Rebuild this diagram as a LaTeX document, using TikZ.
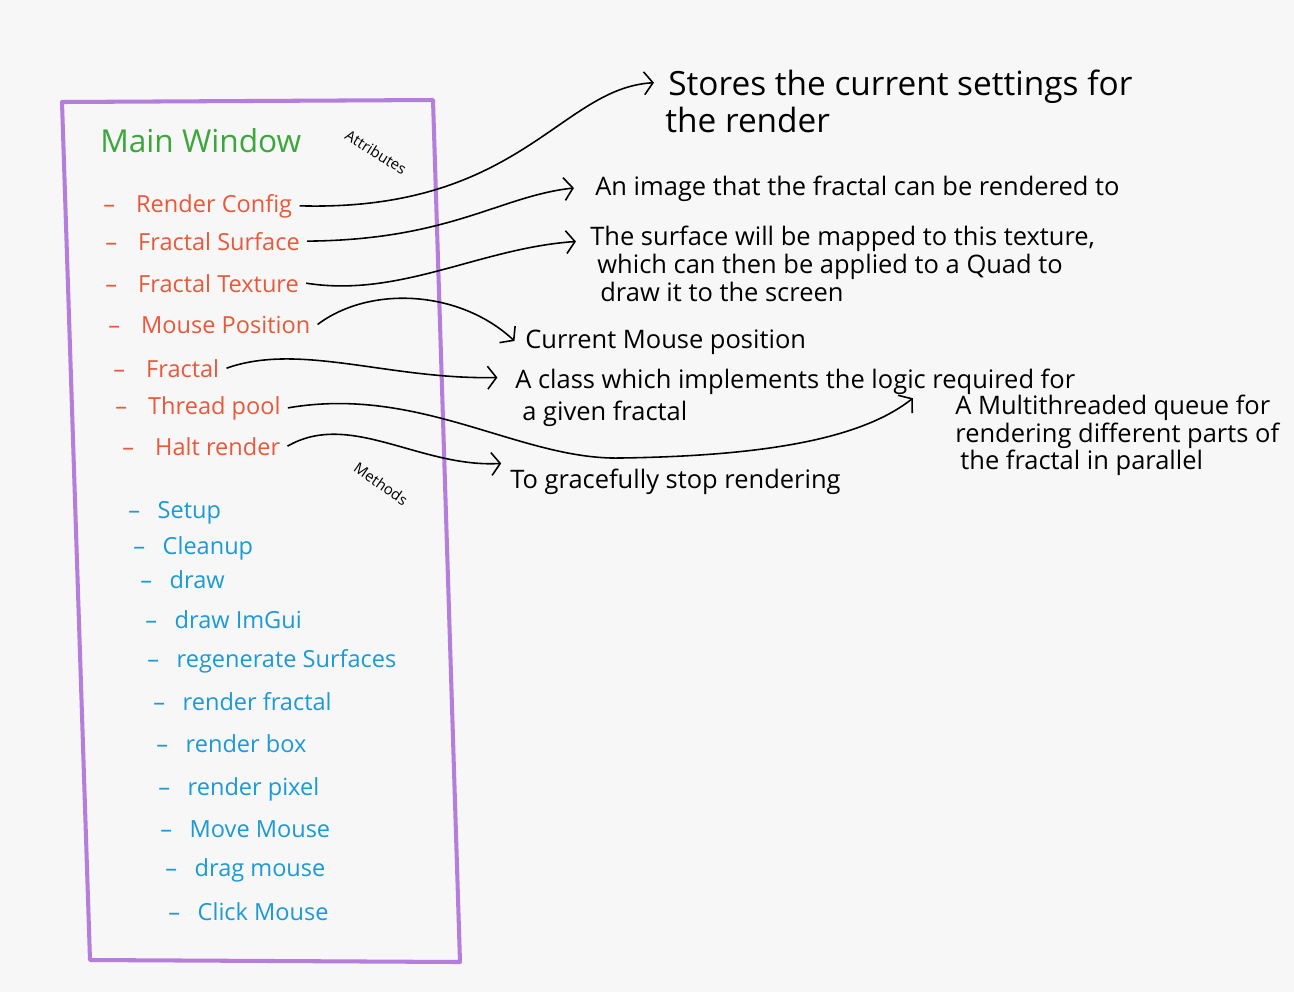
\documentclass[tikz,border=0pt]{standalone}
\usepackage{fontspec}
\setmainfont{Open Sans}
\usetikzlibrary{arrows.meta}
\definecolor{paper}{HTML}{F7F7F7}
\definecolor{boxline}{HTML}{B57EDC}
\definecolor{titlegreen}{HTML}{3DA63D}
\definecolor{attrred}{HTML}{E8593C}
\definecolor{methblue}{HTML}{1B9AD6}
\newcommand{\adash}{--\hspace{12pt}}
\newcommand{\mdash}{--\hspace{10pt}}

\begin{document}
\begin{tikzpicture}[x=0.02cm,y=-0.02cm,
        every node/.style={inner sep=0pt,anchor=base west},
        attr/.style={text=attrred,font=\fontsize{13.4}{15}\selectfont},
        meth/.style={text=methblue,font=\fontsize{13.4}{15}\selectfont},
        desc/.style={text=black,font=\fontsize{14.5}{16}\selectfont},
        bigdesc/.style={text=black,font=\fontsize{19}{22}\selectfont},
        note/.style={text=black,font=\fontsize{8.5}{10}\selectfont,anchor=center},
        link/.style={line width=0.9pt,-{Straight Barb[length=5pt,width=13pt]}}]

    \useasboundingbox[fill=paper] (0,0) rectangle (1294,992);

    % the class box
    \draw[boxline,line width=2.3pt,line join=round] (62,102) -- (433,100) -- (460,962) -- (90,960) -- cycle;
    \node[text=titlegreen,font=\fontsize{18}{22}\selectfont] (title) at (100,152) {Main Window};
    \node[note,rotate=-32] (attrlabel) at (376,152) {Attributes};
    \node[note,rotate=-35] (methlabel) at (381,484) {Methods};

    % attributes
    \node[attr] (rc)    at (103,212) {\adash Render Config};
    \node[attr] (fs)    at (105,250) {\adash Fractal Surface};
    \node[attr] (ft)    at (105,292) {\adash Fractal Texture};
    \node[attr] (mp)    at (108,333) {\adash Mouse Position};
    \node[attr] (fr)    at (113,377) {\adash Fractal};
    \node[attr] (tpool) at (115,414) {\adash Thread pool};
    \node[attr] (hr)    at (122,455) {\adash Halt render};

    % methods
    \node[meth] (setup)   at (128,518) {\mdash Setup};
    \node[meth] (cleanup) at (133,554) {\mdash Cleanup};
    \node[meth] (drw)     at (140,588) {\mdash draw};
    \node[meth] (imgui)   at (145,628) {\mdash draw ImGui};
    \node[meth] (regen)   at (147,667) {\mdash regenerate Surfaces};
    \node[meth] (rfrac)   at (153,710) {\mdash render fractal};
    \node[meth] (rbox)    at (156,752) {\mdash render box};
    \node[meth] (rpix)    at (158,795) {\mdash render pixel};
    \node[meth] (mmove)   at (160,837) {\mdash Move Mouse};
    \node[meth] (mdrag)   at (165,876) {\mdash drag mouse};
    \node[meth] (mclick)  at (168,920) {\mdash Click Mouse};

    % descriptions
    \node[bigdesc] (rcnote)  at (668,95)  {Stores the current settings for};
    \node[bigdesc] (rcnote2) at (665,132) {the render};
    \node[desc] (fsnote)  at (595,195) {An image that the fractal can be rendered to};
    \node[desc] (ftnote)  at (590,245) {The surface will be mapped to this texture,};
    \node[desc] (ftnote2) at (597,273) {which can then be applied to a Quad to};
    \node[desc] (ftnote3) at (600,301) {draw it to the screen};
    \node[desc] (mpnote)  at (525,348) {Current Mouse position};
    \node[desc] (frnote)  at (515,388) {A class which implements the logic required for};
    \node[desc] (frnote2) at (522,420) {a given fractal};
    \node[desc] (tpnote)  at (955,414) {A Multithreaded queue for};
    \node[desc] (tpnote2) at (955,442) {rendering different parts of};
    \node[desc] (tpnote3) at (960,469) {the fractal in parallel};
    \node[desc] (hrnote)  at (510,488) {To gracefully stop rendering};

    % connectors
    \draw[link] ([xshift=4pt]rc.east) .. controls (520,212) and (560,88) .. ([xshift=-8pt,yshift=7pt]rcnote.base west);
    \draw[link] ([xshift=4pt]fs.east) .. controls (450,240) and (500,196) .. ([xshift=-12pt,yshift=4pt]fsnote.base west);
    \draw[link] ([xshift=4pt]ft.east) .. controls (400,298) and (480,248) .. ([xshift=-8pt,yshift=2pt]ftnote.base west);
    \draw[link] ([xshift=4pt]mp.east) .. controls (370,285) and (460,290) .. ([xshift=-6pt,yshift=4pt]mpnote.base west);
    \draw[link] ([xshift=4pt]fr.east) .. controls (300,342) and (390,380) .. ([xshift=-10pt,yshift=6pt]frnote.base west);
    \draw[link] ([xshift=4pt]tpool.east) .. controls (420,385) and (520,460) .. (620,458)
        .. controls (760,456) and (860,440) .. ([xshift=-24pt,yshift=9pt]tpnote.base west);
    \draw[link] ([xshift=4pt]hr.east) .. controls (350,410) and (420,468) .. ([xshift=-5pt,yshift=14pt]hrnote.base west);
\end{tikzpicture}
\end{document}
